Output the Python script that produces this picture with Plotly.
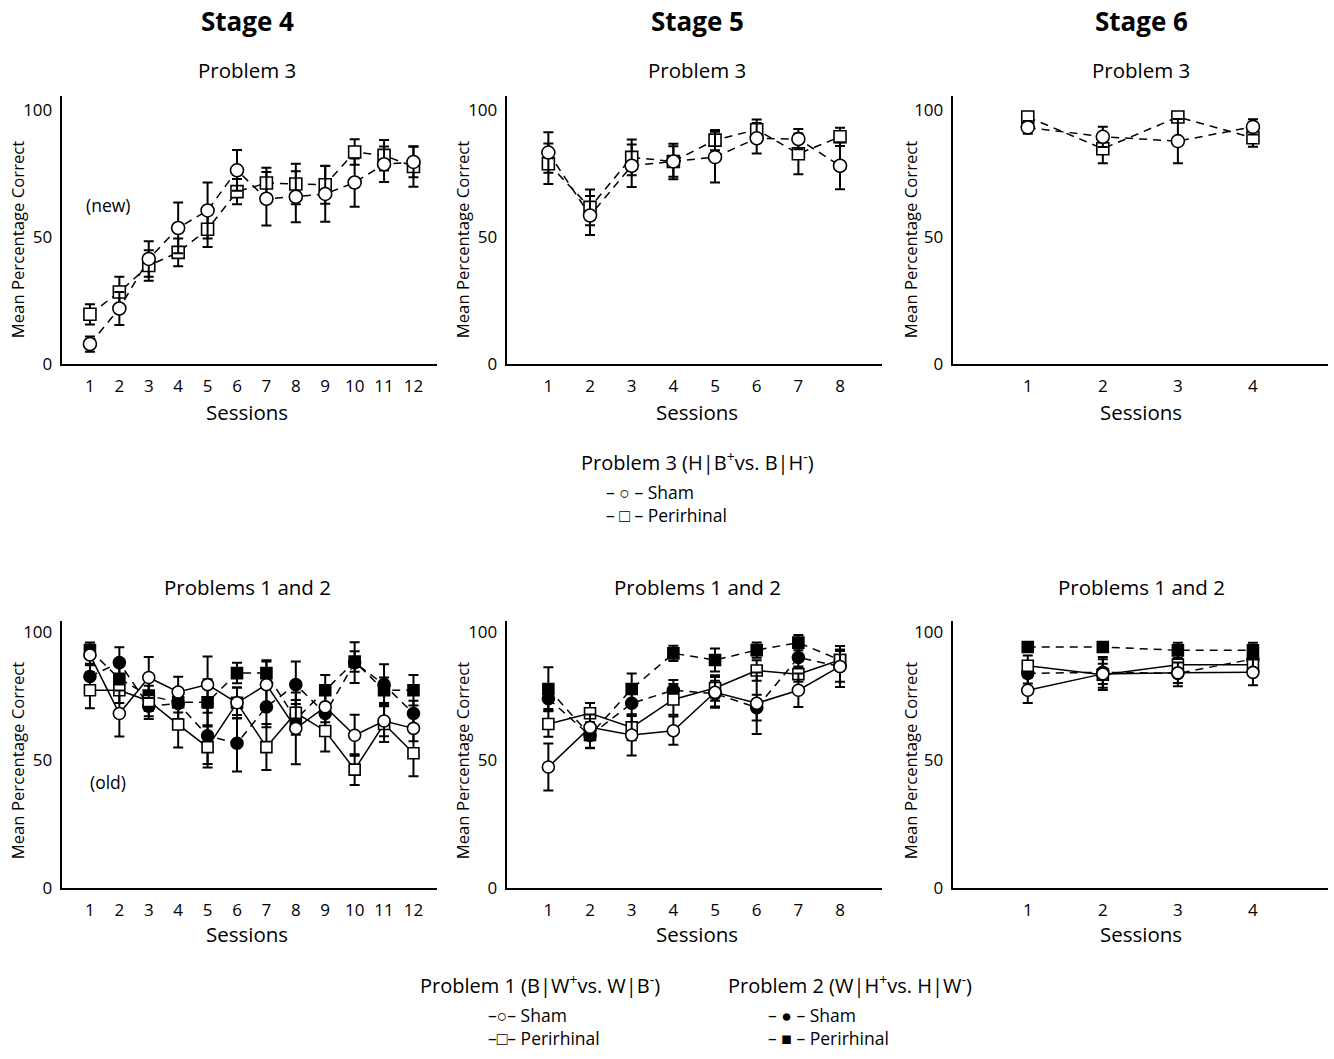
import plotly.graph_objects as go

FONT = "Open Sans"
W, H = 1334, 1059

# ---------------- data ----------------
sess4 = list(range(1, 13))
sess5 = list(range(1, 9))
sess6 = list(range(1, 5))

# Problem 3 (new)
s4_p3_sham = [7.8, 21.8, 41.3, 53.5, 60.4, 76.2, 65.0, 65.8, 66.9, 71.4, 78.6, 79.5]
s4_p3_sham_err = [3, 6.5, 7, 10, 11, 8, 10.5, 10, 11, 9.5, 7, 6]
s4_p3_peri = [19.5, 28.3, 38.7, 43.9, 53.0, 67.8, 71.2, 70.8, 70.5, 83.4, 82.1, 77.7]
s4_p3_peri_err = [4, 6, 6, 5.5, 7, 5, 6, 8, 7.5, 5, 6, 8]

s5_p3_sham = [83.2, 58.4, 78.0, 79.7, 81.4, 88.8, 88.5, 78.0]
s5_p3_sham_err = [8, 7.7, 8.4, 6, 10, 6, 4, 9.3]
s5_p3_peri = [78.8, 61.6, 81.3, 79.7, 88.1, 92.2, 82.7, 89.4]
s5_p3_peri_err = [8, 7, 7, 7, 4, 4, 8, 3.6]

s6_p3_sham = [93.1, 89.4, 87.7, 93.3]
s6_p3_sham_err = [2.5, 4, 8.7, 3]
s6_p3_peri = [97.2, 84.7, 97.2, 89.0]
s6_p3_peri_err = [2, 5.7, 2, 3.5]

# Problems 1 and 2 (old)
s4_p1_sham = [91.0, 68.1, 82.2, 76.5, 79.4, 72.3, 79.4, 62.3, 70.7, 59.6, 65.2, 62.3]
s4_p1_sham_err = [4, 9, 8, 6, 11, 6, 9, 14, 6, 8, 6, 5]
s4_p1_peri = [77.2, 77.2, 73.0, 63.8, 55.0, 72.3, 55.0, 68.4, 61.3, 46.2, 64.0, 52.6]
s4_p1_peri_err = [7, 5, 6, 9, 8, 6, 9, 5, 8, 6, 7, 9]
s4_p2_sham = [82.6, 88.0, 71.0, 72.0, 59.4, 56.5, 70.7, 79.4, 68.1, 88.0, 79.4, 68.1]
s4_p2_sham_err = [5, 6, 5, 6, 11, 11, 8, 9, 8, 8, 8, 5]
s4_p2_peri = [92.9, 81.7, 75.1, 72.5, 72.5, 83.9, 83.9, 65.8, 77.2, 88.4, 77.2, 77.2]
s4_p2_peri_err = [3, 6, 6, 4, 9, 4, 5, 6, 6, 4, 5, 6]

s5_p1_sham = [47.2, 62.7, 59.7, 61.4, 76.4, 72.1, 77.2, 86.5]
s5_p1_sham_err = [9.2, 5, 8, 5.5, 6, 12, 6.5, 8]
s5_p1_peri = [64.0, 68.2, 62.7, 73.6, 78.1, 84.9, 83.5, 89.0]
s5_p1_peri_err = [5, 4, 5, 6, 5, 4, 3, 4]
s5_p2_sham = [73.9, 59.5, 72.1, 77.2, 75.9, 70.4, 90.0, 86.5]
s5_p2_sham_err = [4, 5, 5, 4, 5, 5, 4, 6]
s5_p2_peri = [77.7, 59.7, 77.7, 91.6, 89.0, 92.9, 95.8, 89.0]
s5_p2_peri_err = [8.5, 5, 6, 3, 4.5, 3, 3, 4]

s6_p1_sham = [77.2, 83.6, 84.0, 84.2]
s6_p1_sham_err = [5, 4, 4, 5]
s6_p1_peri = [86.8, 83.3, 87.2, 87.2]
s6_p1_peri_err = [4, 6, 4, 4]
s6_p2_sham = [83.8, 84.2, 83.8, 89.4]
s6_p2_sham_err = [4, 6, 5, 4]
s6_p2_peri = [94.1, 94.1, 92.8, 92.8]
s6_p2_peri_err = [2, 2, 3, 3]

stage_titles = ["Stage 4", "Stage 5", "Stage 6"]
row_titles = ["Problem 3", "Problems 1 and 2"]
y_ticks = [0, 50, 100]

# ---------------- layout geometry ----------------
xdoms = [(61.7 / W, 437 / W), (506.7 / W, 881.7 / W), (952.7 / W, 1328 / W)]
ydoms = [(1 - 367 / H, 1 - 96 / H), (1 - 897 / H, 1 - 627 / H)]
xranges = [[0.04, 12.8], [0, 9], [0, 5]]
yranges = [[0, 105.5], [0, 104.3]]
sessions = [sess4, sess5, sess6]

fig = go.Figure()

DASH = "8px,6px"


def add_series(ax, x, y, err, symbol, fill, dash, msize=12):
    fig.add_trace(go.Scatter(
        x=x, y=y, xaxis="x" + ax, yaxis="y" + ax,
        mode="lines+markers",
        line=dict(color="black", width=1.5, dash=dash),
        marker=dict(symbol=symbol, size=msize, color=fill,
                    line=dict(color="black", width=1.6)),
        error_y=dict(type="data", array=err, visible=True,
                     color="black", thickness=2, width=5),
        showlegend=False, hoverinfo="skip",
    ))


top = [
    (s4_p3_sham, s4_p3_sham_err, s4_p3_peri, s4_p3_peri_err),
    (s5_p3_sham, s5_p3_sham_err, s5_p3_peri, s5_p3_peri_err),
    (s6_p3_sham, s6_p3_sham_err, s6_p3_peri, s6_p3_peri_err),
]
bottom = [
    (s4_p1_sham, s4_p1_sham_err, s4_p1_peri, s4_p1_peri_err,
     s4_p2_sham, s4_p2_sham_err, s4_p2_peri, s4_p2_peri_err),
    (s5_p1_sham, s5_p1_sham_err, s5_p1_peri, s5_p1_peri_err,
     s5_p2_sham, s5_p2_sham_err, s5_p2_peri, s5_p2_peri_err),
    (s6_p1_sham, s6_p1_sham_err, s6_p1_peri, s6_p1_peri_err,
     s6_p2_sham, s6_p2_sham_err, s6_p2_peri, s6_p2_peri_err),
]

layout = dict(
    width=W, height=H, margin=dict(l=0, r=0, t=0, b=0),
    paper_bgcolor="white", plot_bgcolor="white",
    font=dict(family=FONT, color="black"),
    showlegend=False,
)

annotations = []
idx = 0
for r in range(2):
    for c in range(3):
        idx += 1
        ax = "" if idx == 1 else str(idx)
        xs = sessions[c]
        if r == 0:
            sh, she, pe, pee = top[c]
            add_series(ax, xs, pe, pee, "square", "white", DASH, 12)
            add_series(ax, xs, sh, she, "circle", "white", DASH, 13)
        else:
            a, ae, b, be, cc, ce, d, de = bottom[c]
            add_series(ax, xs, d, de, "square", "black", DASH, 11)
            add_series(ax, xs, cc, ce, "circle", "black", DASH, 12)
            add_series(ax, xs, b, be, "square", "white", "solid", 11)
            add_series(ax, xs, a, ae, "circle", "white", "solid", 12)
        layout["xaxis" + ax] = dict(
            domain=xdoms[c], range=xranges[c], anchor="y" + ax,
            showgrid=False, zeroline=False, showline=True,
            linecolor="black", linewidth=2,
            tickmode="array", tickvals=xs, ticktext=[str(v) for v in xs],
            ticks="outside", ticklen=6, tickcolor="rgba(0,0,0,0)",
            tickfont=dict(family=FONT, size=17, color="black"),
            fixedrange=True,
        )
        layout["yaxis" + ax] = dict(
            domain=ydoms[r], range=yranges[r], anchor="x" + ax,
            showgrid=False, zeroline=False, showline=True,
            linecolor="black", linewidth=2,
            tickmode="array", tickvals=y_ticks,
            ticks="outside", ticklen=4, tickcolor="rgba(0,0,0,0)",
            tickfont=dict(family=FONT, size=17, color="black"),
            fixedrange=True,
        )


def ann(text, px, py, size, xanchor="center", bold=False, angle=0, align="center"):
    annotations.append(dict(
        text=("<b>" + text + "</b>") if bold else text,
        x=px / W, y=1 - py / H, xref="paper", yref="paper",
        xanchor=xanchor, yanchor="middle", showarrow=False,
        textangle=angle, align=align,
        font=dict(family=FONT, size=size, color="black"),
    ))


centers = [247, 697, 1141]
yl_x = [17, 462, 910]
for c in range(3):
    ann(stage_titles[c], centers[c], 20, 26, bold=True)
    ann(row_titles[0], centers[c], 70, 20.5)
    ann(row_titles[1], centers[c], 593, 20.5)
    ann("Sessions", centers[c], 416, 20.5)
    ann("Sessions", centers[c], 944, 20.5)
    ann("Mean Percentage Correct", yl_x[c], 241, 16.7, angle=-90)
    ann("Mean Percentage Correct", yl_x[c], 768, 16.7, angle=-90)

ann("(new)", 108, 206, 17.5)
ann("(old)", 108, 790, 17.5)

# legends
ann("Problem 3 (H|B<sup>+</sup>vs. B|H<sup>-</sup>)", 697, 466, 20)
ann("– ○ – Sham<br>– □ – Perirhinal", 604, 508, 17.5, xanchor="left", align="left")

ann("Problem 1 (B|W<sup>+</sup>vs. W|B<sup>-</sup>)", 540, 995, 20)
ann("Problem 2 (W|H<sup>+</sup>vs. H|W<sup>-</sup>)", 850, 995, 20)
ann("–○– Sham<br>–□– Perirhinal", 486, 1037, 17.5, xanchor="left", align="left")
ann("– ● – Sham<br>– ■ – Perirhinal", 766, 1037, 17.5, xanchor="left", align="left")

layout["annotations"] = annotations
fig.update_layout(**layout)
fig.write_html("out.html", config={"displayModeBar": False})
